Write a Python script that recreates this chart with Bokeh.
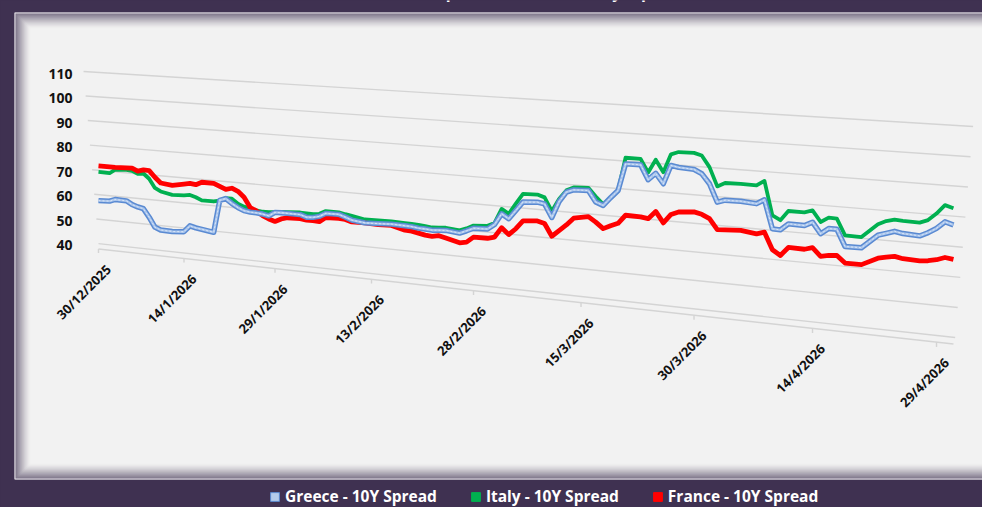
import numpy as np
import pandas as pd
from bokeh.plotting import figure
from bokeh.models import ColumnDataSource, CustomJSTransform, Range1d, Legend, LegendItem
from bokeh.transform import transform
from bokeh.core.properties import value
from bokeh.embed import file_html
from bokeh.resources import INLINE

# ---------------- data ----------------
dates = [
    "2025-12-30", "2026-01-01", "2026-01-02", "2026-01-04", "2026-01-05", "2026-01-06", "2026-01-07", "2026-01-08", "2026-01-09", "2026-01-10",
    "2026-01-12", "2026-01-14", "2026-01-15", "2026-01-16", "2026-01-17", "2026-01-19", "2026-01-20", "2026-01-21", "2026-01-22", "2026-01-23",
    "2026-01-24", "2026-01-25", "2026-01-26", "2026-01-27", "2026-01-28", "2026-01-29", "2026-01-30", "2026-01-31", "2026-02-02", "2026-02-03",
    "2026-02-04", "2026-02-05", "2026-02-06", "2026-02-08", "2026-02-09", "2026-02-10", "2026-02-12", "2026-02-14", "2026-02-16", "2026-02-18",
    "2026-02-19", "2026-02-20", "2026-02-21", "2026-02-22", "2026-02-23", "2026-02-24", "2026-02-26", "2026-02-27", "2026-02-28", "2026-03-02",
    "2026-03-03", "2026-03-04", "2026-03-05", "2026-03-06", "2026-03-07", "2026-03-09", "2026-03-10", "2026-03-11", "2026-03-12", "2026-03-13",
    "2026-03-14", "2026-03-16", "2026-03-17", "2026-03-18", "2026-03-19", "2026-03-20", "2026-03-21", "2026-03-23", "2026-03-24", "2026-03-25",
    "2026-03-26", "2026-03-27", "2026-03-28", "2026-03-30", "2026-03-31", "2026-04-01", "2026-04-02", "2026-04-03", "2026-04-05", "2026-04-07",
    "2026-04-08", "2026-04-09", "2026-04-10", "2026-04-11", "2026-04-13", "2026-04-14", "2026-04-15", "2026-04-16", "2026-04-17", "2026-04-18",
    "2026-04-20", "2026-04-22", "2026-04-23", "2026-04-24", "2026-04-25", "2026-04-27", "2026-04-28", "2026-04-29", "2026-04-30", "2026-05-01",
]

greece = [
    57.6, 57.8, 58.7, 58.6, 57.3, 56.6, 56.1, 52.9, 49.1, 48.2,
    48.1, 48.5, 51.1, 50.5, 50.2, 49.5, 62.4, 63.3, 61.6, 60.2,
    59.2, 58.9, 58.8, 58.6, 58.1, 59.7, 59.8, 59.8, 59.8, 59.0,
    59.2, 59.8, 61.2, 61.3, 60.5, 59.6, 59.0, 59.2, 59.5, 59.4,
    59.3, 59.0, 58.9, 58.7, 58.9, 59.1, 58.6, 59.7, 60.9, 61.1,
    63.0, 67.2, 65.6, 68.9, 72.2, 72.6, 72.2, 67.5, 73.5, 77.2,
    78.2, 78.4, 74.5, 73.5, 76.5, 79.3, 89.0, 89.1, 84.0, 86.5,
    83.0, 89.7, 89.2, 88.9, 87.6, 84.3, 78.1, 79.0, 79.1, 78.7,
    80.3, 70.5, 70.4, 72.7, 72.6, 74.0, 70.3, 72.3, 72.3, 66.7,
    66.8, 71.5, 72.4, 73.3, 72.8, 72.5, 73.8, 75.5, 77.9, 77.1,
]

italy = [
    69.3, 69.2, 70.9, 71.2, 71.0, 70.0, 70.3, 68.4, 64.9, 63.7,
    62.8, 63.0, 63.4, 62.7, 61.7, 61.7, 62.3, 63.5, 63.5, 61.7,
    60.8, 60.1, 59.8, 59.5, 59.6, 59.8, 60.1, 60.3, 60.6, 60.5,
    60.4, 60.8, 62.1, 62.1, 61.6, 61.2, 60.3, 60.4, 60.5, 60.4,
    60.3, 60.2, 60.0, 59.7, 59.9, 60.1, 59.6, 60.6, 61.9, 62.3,
    63.6, 69.0, 67.4, 71.4, 75.2, 75.4, 74.6, 69.8, 74.5, 77.8,
    79.1, 79.4, 76.5, 73.9, 76.5, 79.2, 91.2, 91.2, 86.6, 91.3,
    87.1, 93.6, 94.6, 94.7, 94.0, 90.1, 83.6, 85.0, 85.1, 85.0,
    86.8, 75.1, 73.7, 77.1, 77.1, 78.0, 74.3, 76.0, 75.9, 70.5,
    70.4, 75.2, 76.5, 77.2, 77.0, 76.9, 78.0, 80.4, 83.4, 82.6,
]

france = [
    71.8, 71.8, 71.8, 72.0, 72.1, 71.1, 71.8, 71.7, 69.2, 67.1,
    66.6, 67.5, 68.0, 67.7, 68.9, 68.9, 67.9, 66.9, 67.6, 66.6,
    64.5, 60.7, 59.6, 58.0, 56.9, 56.2, 57.4, 58.1, 58.2, 57.9,
    57.9, 57.8, 59.6, 59.8, 59.6, 58.9, 59.0, 58.8, 59.0, 57.7,
    57.6, 57.1, 56.6, 56.4, 56.9, 56.3, 55.0, 55.5, 57.6, 57.7,
    58.4, 62.1, 59.8, 62.2, 65.3, 65.8, 65.1, 60.7, 63.0, 65.3,
    68.0, 69.0, 67.3, 65.2, 66.5, 67.6, 70.7, 70.6, 70.2, 73.0,
    69.2, 72.4, 73.5, 74.0, 73.4, 72.1, 68.5, 68.7, 69.0, 68.3,
    69.1, 63.3, 61.6, 64.6, 64.5, 65.3, 62.6, 63.2, 63.4, 61.1,
    61.1, 63.8, 64.4, 64.9, 64.4, 64.2, 64.5, 65.1, 66.1, 65.7,
]

series_names = ["Greece - 10Y Spread", "Italy - 10Y Spread", "France - 10Y Spread"]
title_text = "10Y Spreads vs Bund - Daily (bp)"

tick_dates = ["2025-12-30", "2026-01-14", "2026-01-29", "2026-02-13", "2026-02-28",
              "2026-03-15", "2026-03-30", "2026-04-14", "2026-04-29"]
tick_labels = ["30/12/2025", "14/1/2026", "29/1/2026", "13/2/2026", "28/2/2026",
               "15/3/2026", "30/3/2026", "14/4/2026", "29/4/2026"]
y_ticks = [40, 50, 60, 70, 80, 90, 100, 110]
y_labels = ["40", "50", "60", "70", "80", "90", "100", "110"]

# ---------------- styling / layout ----------------
W, H = 982, 507
PURPLE = "#3f3151"
PANEL = "#f2f2f2"
GRID = "#d4d4d4"
FONT = "Open Sans"

T0 = pd.Timestamp(dates[0])
END = pd.Timestamp(dates[-1])
SPAN_DAYS = (END - T0).days

# 3-D perspective of the Excel chart (plot-space parameters)
PX = dict(t0=T0.value / 1e6, x0=98.0, xa=5.517, xb=0.01222, xr=97.0,
          y0=243.0, ys=0.1096, s0=2.444, ss=0.000684, v0=float(y_ticks[0]))

XJS = """
const out = new Float64Array(xs.length);
for (let i = 0; i < xs.length; i++) {
  const t = (xs[i] - t0) / 86400000;
  out[i] = x0 + xa*t + xb*t*t;
}
return out;
"""
YJS = """
const d = src.data[col];
const out = new Float64Array(xs.length);
for (let i = 0; i < xs.length; i++) {
  const t = (d[i] - t0) / 86400000;
  const x = x0 + xa*t + xb*t*t;
  out[i] = (y0 + ys*(x - xr)) - (xs[i] - v0)*(s0 + ss*(x - xr));
}
return out;
"""
xtf = CustomJSTransform(args=dict(PX), v_func=XJS)


def ytf(src, col):
    return CustomJSTransform(args=dict(src=src, col=col, **PX), v_func=YJS)


p = figure(width=W, height=H, x_range=Range1d(0, W), y_range=Range1d(H, 0),
           output_backend="svg", toolbar_location=None,
           x_axis_type=None, y_axis_type=None, min_border=0,
           outline_line_color=None, background_fill_color=PURPLE,
           border_fill_color=PURPLE)

# title (cut off at the top edge, as in the reference)
p.text(x=[530], y=[-9], text=[title_text], text_align="center", text_baseline="alphabetic",
       text_font=value(FONT), text_font_style="bold", text_font_size="16px", text_color="white")

# panel with inner shadow
p.quad(left=14, right=1010, top=12, bottom=479, fill_color=PANEL, line_color=None)
for i in range(16):
    a = 0.85 * (1 - i / 16) ** 1.6
    p.quad(left=14.5 + i, right=1010, top=12.5 + i, bottom=478.5 - i,
           fill_alpha=0, line_color=PURPLE, line_alpha=a, line_width=1)
p.quad(left=14.5, right=1010, top=12.5, bottom=478.5, fill_alpha=0,
       line_color="#e4e1e8", line_width=1)

# back-wall gridlines
gv = np.array(y_ticks, dtype=float)
gsrc = ColumnDataSource(dict(
    v=gv,
    ds=T0 + pd.to_timedelta(-0.039 * (gv - y_ticks[0]), unit="D"),
    de=T0 + pd.to_timedelta(SPAN_DAYS + 0.2 + 0.03 * (gv - y_ticks[0]), unit="D"),
))
p.segment(x0=transform("ds", xtf), y0=transform("v", ytf(gsrc, "ds")),
          x1=transform("de", xtf), y1=transform("v", ytf(gsrc, "de")),
          source=gsrc, line_color=GRID, line_width=1.4)

# floor front edge and tick marks
FRONT = y_ticks[0] - 2.2
fsrc = ColumnDataSource(dict(v=[FRONT], ds=[T0], de=[END]))
p.segment(x0=transform("ds", xtf), y0=transform("v", ytf(fsrc, "ds")),
          x1=transform("de", xtf), y1=transform("v", ytf(fsrc, "de")),
          source=fsrc, line_color=GRID, line_width=1.4)
tdates = pd.to_datetime(tick_dates)
tsrc = ColumnDataSource(dict(d=tdates, v0=[FRONT] * len(tdates), v1=[FRONT - 1.6] * len(tdates),
                             label=tick_labels))
p.segment(x0=transform("d", xtf), y0=transform("v0", ytf(tsrc, "d")),
          x1=transform("d", xtf), y1=transform("v1", ytf(tsrc, "d")),
          source=tsrc, line_color=GRID, line_width=1.4)

# x tick labels (rotated, along the slanted front edge)
p.text(x=transform("d", xtf), y=transform("v0", ytf(tsrc, "d")), text="label", source=tsrc,
       x_offset=10, y_offset=18, angle=np.pi / 4, text_align="right", text_baseline="middle",
       text_font=value(FONT), text_font_style="bold", text_font_size="13px", text_color="#111111")

# y tick labels
ysrc = ColumnDataSource(dict(d=[T0] * len(y_ticks), v=y_ticks, label=y_labels))
p.text(x=transform("d", xtf), y=transform("v", ytf(ysrc, "d")), text="label", source=ysrc,
       x_offset=-26, y_offset=1.5, text_align="right", text_baseline="middle",
       text_font=value(FONT), text_font_style="bold", text_font_size="14px", text_color="#111111")

# series
dts = pd.to_datetime(dates)
isrc = ColumnDataSource(dict(d=dts, v=italy))
frsrc = ColumnDataSource(dict(d=dts, v=france))
grsrc = ColumnDataSource(dict(d=dts, v=greece))

p.line(x=transform("d", xtf), y=transform("v", ytf(isrc, "d")), source=isrc,
       line_color="#00b050", line_width=3.8, line_join="round")
p.line(x=transform("d", xtf), y=transform("v", ytf(frsrc, "d")), source=frsrc,
       line_color="#ff0000", line_width=4.8, line_join="round")
p.line(x=transform("d", xtf), y=transform("v", ytf(grsrc, "d")), source=grsrc,
       line_color="#5a8ad2", line_width=5.4, line_join="round")
p.line(x=transform("d", xtf), y=transform("v", ytf(grsrc, "d")), source=grsrc,
       line_color="#a9c5ec", line_width=2.4, line_join="round")
p.line(x=transform("d", xtf), y=transform("v", ytf(grsrc, "d")), source=grsrc,
       line_color="#ffffff", line_alpha=0.55, line_width=1, line_dash="2 2")

# legend (square swatches)
def swatch_source():
    return ColumnDataSource(dict(l=[np.nan], r=[np.nan], t=[np.nan], b=[np.nan]))


rg = p.quad(left="l", right="r", top="t", bottom="b", source=swatch_source(),
            fill_color="#b4cbea", line_color="#5b8bd0", line_width=1)
ri = p.quad(left="l", right="r", top="t", bottom="b", source=swatch_source(),
            fill_color="#00b050", line_color="#00b050")
rf = p.quad(left="l", right="r", top="t", bottom="b", source=swatch_source(),
            fill_color="#ff0000", line_color="#ff0000")
legend = Legend(items=[LegendItem(label=series_names[0], renderers=[rg]),
                       LegendItem(label=series_names[1], renderers=[ri]),
                       LegendItem(label=series_names[2], renderers=[rf])],
                location=(269, 0), orientation="horizontal",
                background_fill_alpha=0, border_line_alpha=0,
                label_text_color="white", label_text_font=FONT, label_text_font_style="bold",
                label_text_font_size="15.5px", glyph_width=11, glyph_height=11,
                label_standoff=5, spacing=33, padding=0, margin=0, label_height=14)
p.add_layout(legend)

html = file_html(p, INLINE, title="10Y spreads")
html = html.replace("</head>", "<style>html,body{background:%s;}</style></head>" % PURPLE, 1)
open("out.html", "w").write(html)
